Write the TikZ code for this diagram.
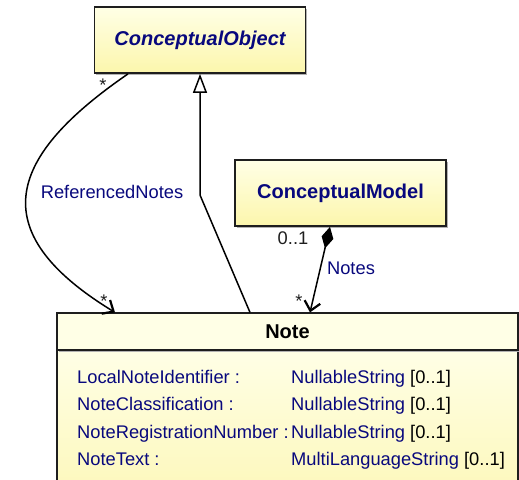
\documentclass[tikz,border=0pt]{standalone}
\usepackage{fontspec}
\setmainfont{Liberation Sans}
\usetikzlibrary{arrows.meta,shadows}

\definecolor{umlblue}{RGB}{8,8,125}
\definecolor{umltop}{RGB}{255,255,230}
\definecolor{umlbottom}{RGB}{252,246,172}
\definecolor{umlline}{RGB}{30,30,30}

\tikzset{
  classbox/.style={draw=umlline, line width=1.8pt, top color=umltop, bottom color=umlbottom,
    minimum width=211pt, minimum height=66pt, inner sep=0pt, text=umlblue,
    font=\fontsize{20}{24}\selectfont\bfseries,
    drop shadow={shadow xshift=1.5pt, shadow yshift=-1.5pt, fill=black!30, opacity=1}},
  attrname/.style={anchor=base west, inner sep=0pt, text=umlblue, font=\fontsize{18.3}{22}\selectfont},
  rolelabel/.style={inner sep=0pt, text=umlline, font=\fontsize{18.3}{22}\selectfont},
  assoc/.style={line width=1.5pt, draw=black},
  opentip/.style={-{Straight Barb[length=9pt, width=16pt, line width=2.2pt]}},
}

\begin{document}
\begin{tikzpicture}[x=1pt, y=-1pt]
    \useasboundingbox (0,0) rectangle (519,479);
    \clip (0,0) rectangle (519,479);
    % classes
    \node[classbox] (conceptobj) at (200,40) {\itshape ConceptualObject};
    \node[classbox] (conceptmodel) at (340.5,193) {ConceptualModel};
    \node[classbox, minimum width=461pt, minimum height=140pt, line width=1.2pt,
          top color=umltop, bottom color=umlbottom!80!white] (notebody) at (287.5,420) {};
    \node[classbox, minimum width=461pt, minimum height=37pt, line width=1.2pt,
          top color=umltop, bottom color=umltop, text=black, drop shadow={opacity=0}] (note) at (287.5,331.5) {Note};
    % attributes
    \foreach \name/\type/\row in {LocalNoteIdentifier/NullableString/0,
        NoteClassification/NullableString/1,
        NoteRegistrationNumber/NullableString/2,
        NoteText/MultiLanguageString/3} {
      \node[attrname] (attr\row) at (77,383+27.5*\row) {\name\ :};
      \node[attrname] (type\row) at (291,383+27.5*\row) {\type\ \textcolor{black}{[0..1]}};
    }
    % generalization
    \coordinate (genbend) at (200,195);
    \draw[assoc, -{Triangle[open, length=19pt, width=14pt, line width=1.5pt]}]
        ([xshift=-37.5pt]note.north) -- (genbend) -- (conceptobj.south);
    % associations
    \draw[assoc, opentip] ([xshift=-72pt]conceptobj.south)
        .. controls (10,155) and (-20,230) .. ([xshift=-172.5pt]note.north);
    \draw[assoc, {Diamond[length=22pt, width=12pt]}-{Straight Barb[length=9pt, width=16pt, line width=2.2pt]}]
        ([xshift=-10.5pt]conceptmodel.south) -- ([xshift=22.5pt]note.north);
    % labels
    \node[rolelabel, text=umlblue] (refname) at (112,192) {ReferencedNotes};
    \node[rolelabel] (refsrc) at (103,85) {*};
    \node[rolelabel] (refdst) at (104,301) {*};
    \node[rolelabel] (notessrc) at (293,238) {0..1};
    \node[rolelabel, text=umlblue] (notesname) at (351,268) {Notes};
    \node[rolelabel] (notesdst) at (299,301) {*};
\end{tikzpicture}
\end{document}
